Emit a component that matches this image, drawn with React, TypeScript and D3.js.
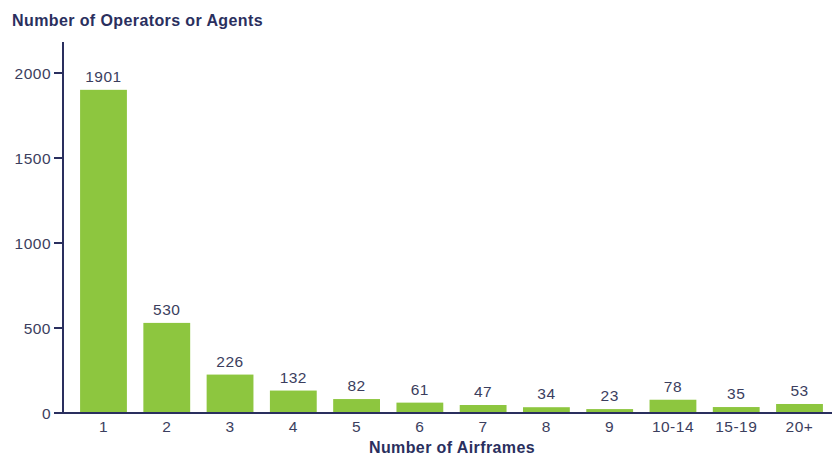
import React from "react";
import * as d3 from "d3";

const categories = ["1", "2", "3", "4", "5", "6", "7", "8", "9", "10-14", "15-19", "20+"];
const counts = [1901, 530, 226, 132, 82, 61, 47, 34, 23, 78, 35, 53];
const yTicks = [0, 500, 1000, 1500, 2000];

const W = 832;
const H = 456;
const axisX = 63;
const baseY = 413;
const topY = 73; // position of 2000

const navy = "#2a2f5e";
const textCol = "#3b3e5e";
const green = "#8dc63f";
const font = "'Liberation Sans', Arial, sans-serif";

export default function App() {
  const x = d3
    .scaleBand<string>()
    .domain(categories)
    .range([axisX, 840])
    .paddingInner(0.26)
    .paddingOuter(0.27);
  const y = d3.scaleLinear().domain([0, 2000]).range([baseY, topY]);

  return (
    <svg width={W} height={H} style={{ position: "absolute", left: 0, top: 0, background: "#fff" }} fontFamily={font}>
      <text x={12} y={26} fontSize={16} fontWeight="bold" letterSpacing={0.4} fill={navy}>
        Number of Operators or Agents
      </text>

      {categories.map((c, i) => (
        <g key={c}>
          <rect
            x={x(c)!}
            y={y(counts[i])}
            width={x.bandwidth()}
            height={baseY - y(counts[i])}
            fill={green}
          />
          <text
            x={x(c)! + x.bandwidth() / 2}
            y={y(counts[i]) - 8}
            textAnchor="middle"
            fontSize={15.5}
            letterSpacing={0.5}
            fill={textCol}
          >
            {counts[i]}
          </text>
          <text
            x={x(c)! + x.bandwidth() / 2}
            y={432}
            textAnchor="middle"
            fontSize={15.5}
            letterSpacing={0.5}
            fill={textCol}
          >
            {c}
          </text>
        </g>
      ))}

      {yTicks.map((t) => (
        <g key={t}>
          <line x1={axisX - 9} x2={axisX} y1={y(t)} y2={y(t)} stroke={navy} strokeWidth={2} />
          <text x={axisX - 12} y={y(t) + 5.5} textAnchor="end" fontSize={15.5} letterSpacing={0.5} fill={textCol}>
            {t}
          </text>
        </g>
      ))}

      <line x1={axisX} x2={axisX} y1={42} y2={baseY + 1} stroke={navy} strokeWidth={2} />
      <line x1={axisX - 1} x2={W} y1={baseY} y2={baseY} stroke={navy} strokeWidth={2} />

      <text x={452} y={453} textAnchor="middle" fontSize={16} fontWeight="bold" letterSpacing={0.4} fill={navy}>
        Number of Airframes
      </text>
    </svg>
  );
}
